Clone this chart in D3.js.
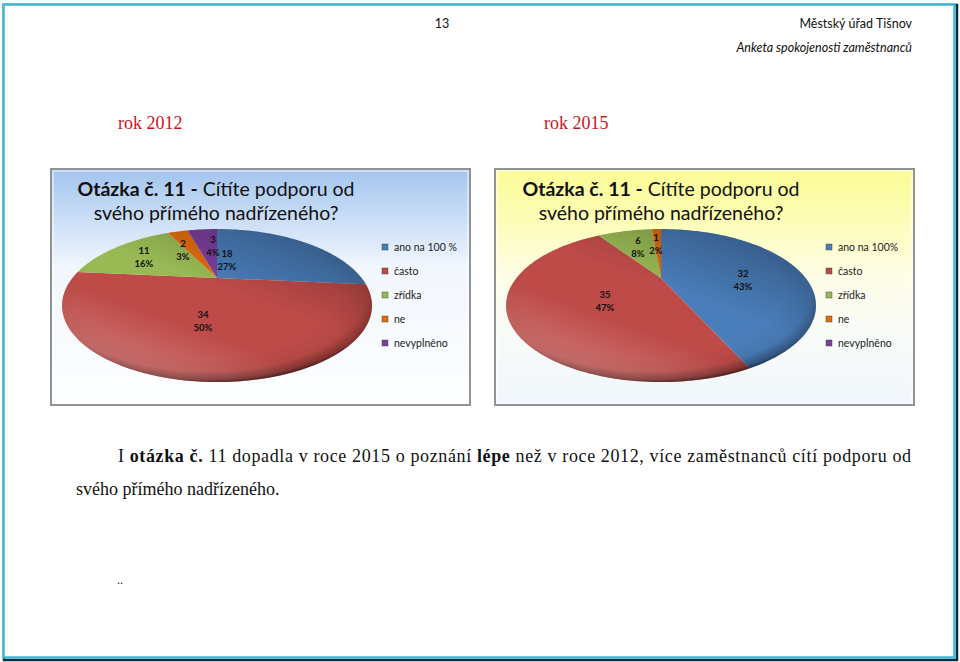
<!DOCTYPE html>
<html>
<head>
<meta charset="utf-8">
<script src="https://cdnjs.cloudflare.com/ajax/libs/d3/7.8.5/d3.min.js"></script>
<style>
  html, body { margin: 0; padding: 0; background: #fff; }
  svg { display: block; }
</style>
</head>
<body>
<svg id="page" width="960" height="662"></svg>
<script>
var categories = ["ano na 100 %", "často", "zřídka", "ne", "nevyplněno"];
var categories2015 = ["ano na 100%", "často", "zřídka", "ne", "nevyplněno"];
var values2012 = [18, 34, 11, 2, 3];
var values2015 = [32, 35, 6, 1, 0];
var percents2012 = ["27%", "50%", "16%", "3%", "4%"];
var percents2015 = ["43%", "47%", "8%", "2%", "0%"];
var colors = ["#4a7ebb", "#be4b48", "#98b954", "#e46c0a", "#7d3f9e"];

var svg = d3.select("#page");
var defs = svg.append("defs");

function grad(id, stops, vertical) {
  var g = defs.append("linearGradient").attr("id", id)
    .attr("x1", 0).attr("y1", 0).attr("x2", vertical ? 0 : 1).attr("y2", vertical ? 1 : 0);
  stops.forEach(function(s){
    g.append("stop").attr("offset", s[0]).attr("stop-color", s[1]).attr("stop-opacity", s[2] === undefined ? 1 : s[2]);
  });
}

grad("bg2012", [[0, "#a3c4ee"], [0.18, "#c4daf5"], [0.42, "#f2f7fd"], [0.7, "#f7fbff"], [1, "#fdfeff"]], true);
grad("bg2015", [[0, "#fbfb96"], [0.2, "#fdfdb4"], [0.45, "#fefde6"], [0.7, "#f8fbf8"], [1, "#f0f6fc"]], true);

// rim darkening of the disc, darker bottom right
var rim = defs.append("radialGradient").attr("id", "rim")
  .attr("cx", 0.47).attr("cy", 0.42).attr("r", 0.58);
[[0.72, "#000", 0], [0.88, "#000", 0.06], [0.97, "#000", 0.32], [1, "#000", 0.55]].forEach(function(s){
  rim.append("stop").attr("offset", s[0]).attr("stop-color", s[1]).attr("stop-opacity", s[2]);
});
// light band on the lower left side
var shine = defs.append("linearGradient").attr("id", "shine")
  .attr("x1", 0.75).attr("y1", 0.1).attr("x2", 0.12).attr("y2", 0.95);
[[0, "#000", 0.22], [0.35, "#000", 0], [0.6, "#fff", 0], [0.9, "#fff", 0.22], [1, "#fff", 0.05]].forEach(function(s){
  shine.append("stop").attr("offset", s[0]).attr("stop-color", s[1]).attr("stop-opacity", s[2]);
});
defs.append("filter").attr("id", "soft").append("feGaussianBlur").attr("stdDeviation", 0.45);

// page frame
svg.append("rect").attr("x", 4).attr("y", 5).attr("width", 953).attr("height", 655)
  .attr("fill", "none").attr("stroke", "#0b2a3c").attr("stroke-width", 2.5);
svg.append("rect").attr("x", 3.5).attr("y", 4.5).attr("width", 951).attr("height", 653)
  .attr("fill", "#fff").attr("stroke", "#3fb5d3").attr("stroke-width", 2.5);

// page heading
var sansFont = "Lato, 'Open Sans', sans-serif";
var serifFont = "'Liberation Serif', serif";
svg.append("text").text("13").attr("x", 442).attr("y", 28)
  .attr("text-anchor", "middle").attr("font-family", sansFont).attr("font-size", 12.5).attr("fill", "#111");
svg.append("text").text("Městský úřad Tišnov").attr("x", 912).attr("y", 28)
  .attr("text-anchor", "end").attr("font-family", sansFont).attr("font-size", 12.5).attr("fill", "#111");
svg.append("text").text("Anketa spokojenosti zaměstnanců").attr("x", 912).attr("y", 52)
  .attr("text-anchor", "end").attr("font-family", sansFont).attr("font-style", "italic").attr("font-size", 12.5).attr("fill", "#111");

svg.append("text").text("rok 2012").attr("x", 118).attr("y", 129)
  .attr("font-family", serifFont).attr("font-size", 18).attr("fill", "#c8161d");
svg.append("text").text("rok 2015").attr("x", 544).attr("y", 129)
  .attr("font-family", serifFont).attr("font-size", 18).attr("fill", "#c8161d");

// pie seen in perspective: unit circle is pushed through a projective map
function drawChart(left, bgId, cats, values, percents, titleDx, labelPos, clipId) {
  var top = 169, w = 419, h = 236;
  var cx = left + 166, cy = 278;
  var g = svg.append("g");

  g.append("rect").attr("x", left).attr("y", top).attr("width", w).attr("height", h)
    .attr("fill", "url(#" + bgId + ")").attr("stroke", "#8f9396").attr("stroke-width", 2);
  g.append("rect").attr("x", left + 2).attr("y", top + 2).attr("width", w - 4).attr("height", h - 4)
    .attr("fill", "none").attr("stroke", "#fff").attr("stroke-opacity", 0.6).attr("stroke-width", 1.5);

  var title = g.append("text").attr("x", cx + titleDx).attr("y", 196)
    .attr("text-anchor", "middle").attr("font-family", sansFont).attr("font-size", 19.5).attr("fill", "#111");
  title.append("tspan").attr("font-weight", "bold").text("Otázka č. 11 -");
  title.append("tspan").text(" Cítíte podporu od");
  g.append("text").text("svého přímého nadřízeného?").attr("x", cx + titleDx).attr("y", 220)
    .attr("text-anchor", "middle").attr("font-family", sansFont).attr("font-size", 19.5).attr("fill", "#111");

  var k = -0.36, a = 66.6, b = 144.6;
  function project(ang) {
    var u = Math.sin(ang), v = -Math.cos(ang), d = 1 + k * v;
    return [cx + b * u / d, cy + a * v / d];
  }
  var line = d3.line();
  var pie = d3.pie().sort(null);
  var arcs = pie(values);

  arcs.forEach(function(s, i){
    if (s.endAngle - s.startAngle <= 0) return;
    var n = Math.max(2, Math.ceil((s.endAngle - s.startAngle) / 0.02));
    var pts = [[cx, cy]];
    d3.range(n + 1).forEach(function(j){
      pts.push(project(s.startAngle + (s.endAngle - s.startAngle) * j / n));
    });
    g.append("path").attr("d", line(pts) + "Z").attr("fill", colors[i]);
  });

  // the shading over the whole disc
  var full = d3.range(0, 2 * Math.PI + 0.02, 0.02).map(project);
  g.append("path").attr("d", line(full) + "Z").attr("fill", "url(#shine)");
  g.append("path").attr("d", line(full) + "Z").attr("fill", "url(#rim)");

  // value labels
  arcs.forEach(function(s, i){
    if (!labelPos[i]) return;
    var t = g.append("g").attr("font-family", sansFont).attr("font-weight", "bold")
      .attr("font-size", 9.5).attr("fill", "#111").attr("text-anchor", "middle");
    t.append("text").text(values[i]).attr("x", left + labelPos[i][0]).attr("y", labelPos[i][1]);
    t.append("text").text(percents[i]).attr("x", left + labelPos[i][0]).attr("y", labelPos[i][1] + 13);
  });

  // legend
  var legendY = d3.scalePoint().domain(cats).range([247, 343]);
  cats.forEach(function(c, i){
    g.append("rect").attr("x", left + 331).attr("y", legendY(c) - 3).attr("width", 6).attr("height", 6)
      .attr("fill", colors[i]).attr("stroke", "#333").attr("stroke-width", 0.4);
    g.append("text").text(c).attr("x", left + 343).attr("y", legendY(c) + 4)
      .attr("font-family", sansFont).attr("font-size", 10.5).attr("fill", "#222");
  });
}

drawChart(51, "bg2012", categories, values2012, percents2012, -1,
  [[227 - 51 + 0, 257], [203 - 51, 318], [144 - 51, 254], [183 - 51, 247], [213 - 51, 243]]);
drawChart(495, "bg2015", categories2015, values2015, percents2015, 0,
  [[743 - 495 + 0 + 0, 277], [605 - 495, 298], [638 - 495, 244], [656 - 495, 241], null]);

// body text
var para = svg.append("text").attr("x", 118).attr("y", 462)
  .attr("font-family", serifFont).attr("font-size", 18).attr("fill", "#111")
  .attr("textLength", 793).attr("lengthAdjust", "spacing");
para.append("tspan").text("I ");
para.append("tspan").attr("font-weight", "bold").text("otázka č.");
para.append("tspan").text(" 11 dopadla v roce 2015 o poznání ");
para.append("tspan").attr("font-weight", "bold").text("lépe");
para.append("tspan").text(" než v roce 2012, více zaměstnanců cítí podporu od");
svg.append("text").text("svého přímého nadřízeného.").attr("x", 76).attr("y", 495)
  .attr("font-family", serifFont).attr("font-size", 18).attr("fill", "#111");
svg.append("text").text("..").attr("x", 117).attr("y", 584)
  .attr("font-family", serifFont).attr("font-size", 12).attr("fill", "#111");
</script>
</body>
</html>
